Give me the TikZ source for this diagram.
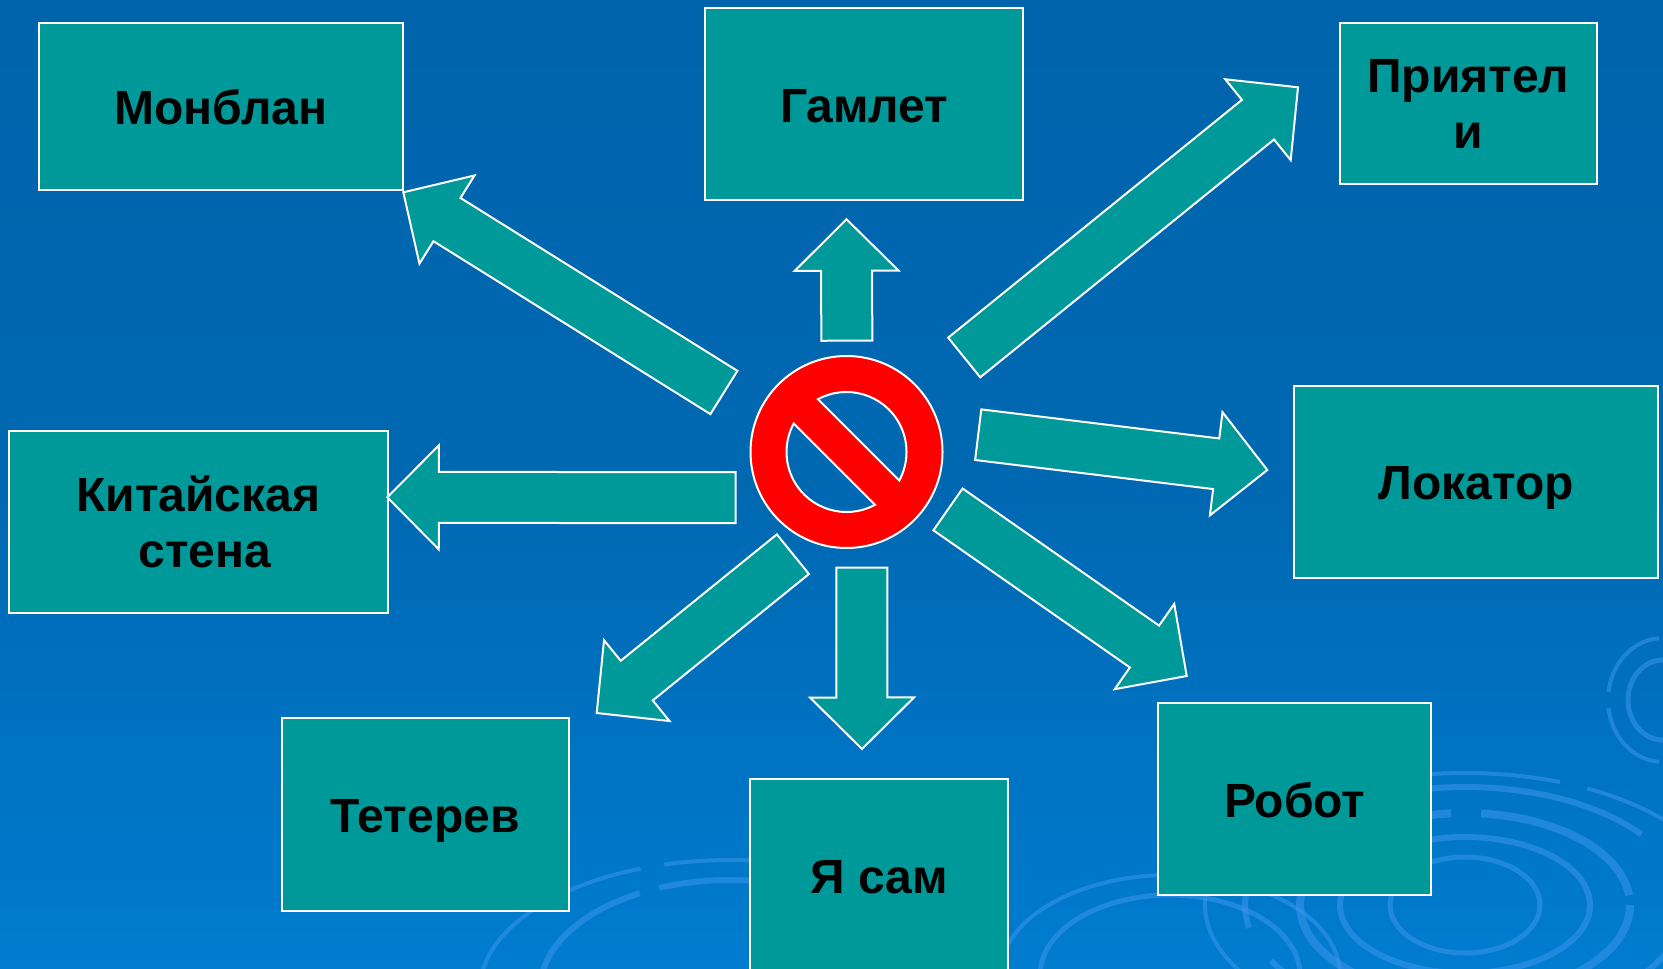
\documentclass[tikz,border=0pt]{standalone}
\usepackage{fontspec}
\setmainfont{Liberation Sans}
\usetikzlibrary{calc}

\definecolor{bgtop}{RGB}{0,100,172}
\definecolor{bgbot}{RGB}{0,124,208}
\definecolor{boxteal}{RGB}{0,153,153}
\definecolor{swirl}{RGB}{60,150,235}
\definecolor{stopred}{RGB}{255,0,0}

\tikzset{
  card/.style={draw=white, line width=1pt, fill=boxteal, inner sep=0pt, align=center,
    font=\fontsize{24}{28}\selectfont\bfseries},
  word/.style={text height=18pt, text depth=0pt},
  blockarrow/.style={draw=white, line width=1pt, fill=boxteal, line join=miter},
  ring/.style={swirl, opacity=0.55}
}

\begin{document}
\begin{tikzpicture}[x=0.5pt,y=-0.5pt]
\useasboundingbox (0,0) rectangle (1663,968);
\fill[top color=bgtop, bottom color=bgbot, middle color=bgtop!85!bgbot] (0,0) rectangle (1663,968);

% swirls in the background
\begin{scope}
\clip (0,0) rectangle (1663,968);
\draw[ring, line width=2.5pt] (1465,905) ellipse [x radius=75, y radius=48];
\draw[ring, line width=3pt, dash pattern=on 160pt off 10pt] (1465,905) ellipse [x radius=125, y radius=68];
\draw[ring, line width=4pt, dash pattern=on 90pt off 12pt on 200pt off 15pt] (1465,905) ellipse [x radius=165, y radius=92];
\draw[ring, line width=3pt, dash pattern=on 240pt off 20pt] (1465,905) ellipse [x radius=220, y radius=118];
\draw[ring, line width=2pt, dash pattern=on 120pt off 14pt] (1465,905) ellipse [x radius=260, y radius=132];
\draw[ring, line width=2.5pt] (1170,975) ellipse [x radius=130, y radius=80];
\draw[ring, line width=2pt, dash pattern=on 100pt off 12pt] (1170,975) ellipse [x radius=170, y radius=100];
\draw[ring, line width=3pt, dash pattern=on 70pt off 10pt on 150pt off 14pt] (730,990) ellipse [x radius=190, y radius=110];
\draw[ring, line width=2pt, dash pattern=on 130pt off 12pt] (730,990) ellipse [x radius=250, y radius=130];
\draw[ring, line width=2.5pt] (1663,700) ellipse [x radius=35, y radius=40];
\draw[ring, line width=2pt, dash pattern=on 40pt off 8pt] (1663,700) ellipse [x radius=55, y radius=62];
\end{scope}

% boxes
\node[card, word, minimum width=181.8pt, minimum height=83.4pt] (monblan) at (221.1,106.4) {Монблан};
\node[card, word, minimum width=158.9pt, minimum height=95.8pt] (hamlet) at (864.2,104.3) {Гамлет};
\node[card, minimum width=128.7pt, minimum height=80.7pt] (friends) at (1468.4,103.7) {Приятел\\и};
\node[card, minimum width=189.4pt, minimum height=90.9pt] (wall) at (198.4,521.9) {Китайская\\\hspace*{6.4pt}стена};
\node[card, word, minimum width=182pt, minimum height=96pt] (locator) at (1476,481.7) {Локатор};
\node[card, word, minimum width=136.4pt, minimum height=95.9pt] (robot) at (1294.7,799.2) {Робот};
\node[card, word, minimum width=143.7pt, minimum height=96.2pt] (grouse) at (425.3,814.5) {Тетерев};
\node[card, word, minimum width=128.9pt, minimum height=96.5pt] (myself) at (878.9,875.5) {Я сам};

% arrows: tail and tip of each
\coordinate (monblanT) at (723.9,392.5);  \coordinate (monblanP) at (403.3,192.3);
\coordinate (hamletT) at (846.8,340.7);   \coordinate (hamletP) at (846.5,219.3);
\coordinate (friendsT) at (964.2,357.5);  \coordinate (friendsP) at (1298,87.3);
\coordinate (wallT) at (735.7,497.7);     \coordinate (wallP) at (387.3,497.3);
\coordinate (locatorT) at (978.2,434.7);  \coordinate (locatorP) at (1267.3,470);
\coordinate (grouseT) at (792.9,554.2);   \coordinate (grouseP) at (596.7,713);
\coordinate (myselfT) at (861.9,567.7);   \coordinate (myselfP) at (862,749);
\coordinate (robotT) at (948,509.4);      \coordinate (robotP) at (1186.7,676);

\foreach \n in {monblan,hamlet,friends,wall,locator,grouse,myself,robot}{
  \coordinate (b) at ($(\n P)!25.75pt!(\n T)$);
  \draw[blockarrow] ($(\n T)!12.75pt!90:(\n P)$) -- ($(b)!12.75pt!90:(\n P)$)
    -- ($(b)!26pt!90:(\n P)$) -- (\n P) -- ($(b)!26pt!-90:(\n P)$)
    -- ($(b)!12.75pt!-90:(\n P)$) -- ($(\n T)!12.75pt!-90:(\n P)$) -- cycle;
}

% no-entry sign
\coordinate (stop) at (846.5,452);
\fill[stopred, even odd rule, draw=white, line width=1pt] (stop) circle [radius=96]
  (stop) ++(-118.4:60) arc [start angle=-118.4, end angle=28.4, radius=60] -- cycle
  (stop) ++(61.6:60) arc [start angle=61.6, end angle=208.4, radius=60] -- cycle;
\end{tikzpicture}
\end{document}
